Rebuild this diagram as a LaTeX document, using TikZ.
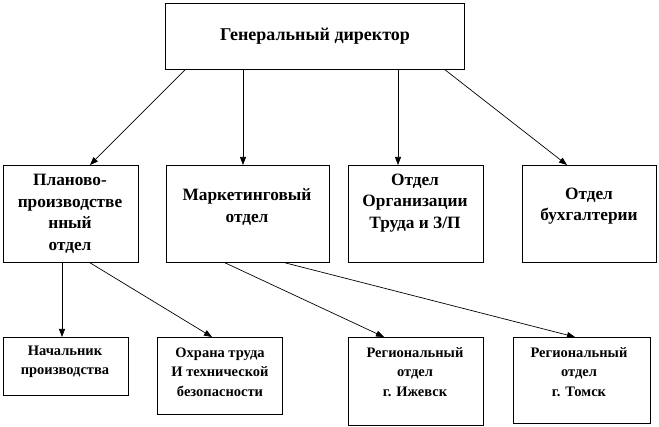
\documentclass[tikz,border=0pt]{standalone}
\usepackage{fontspec}
\setmainfont{Liberation Serif}
\usetikzlibrary{arrows.meta}
\begin{document}
\begin{tikzpicture}[x=1pt,y=-1pt,
  box/.style={draw=black,line width=0.8pt,inner sep=0pt,anchor=north west},
  toptxt/.style={align=center,font=\fontsize{18}{21.5}\selectfont\bfseries},
  bigtxt/.style={align=center,font=\fontsize{17.3}{21.5}\selectfont\bfseries},
  smalltxt/.style={align=center,font=\fontsize{14.5}{19.5}\selectfont\bfseries},
  arr/.style={line width=0.7pt,-{Triangle[length=8pt,width=6pt]}}]
\useasboundingbox (0,0) rectangle (659,427);
% boxes
\node[box,minimum width=299pt,minimum height=66pt] (gd) at (165,3) {};
\node[box,minimum width=135pt,minimum height=97pt] (b1) at (3,165) {};
\node[box,minimum width=163pt,minimum height=97pt] (b2) at (166,165) {};
\node[box,minimum width=135pt,minimum height=97pt] (b3) at (348,165) {};
\node[box,minimum width=134pt,minimum height=97pt] (b4) at (522,165) {};
\node[box,minimum width=125pt,minimum height=58pt] (c1) at (3,337) {};
\node[box,minimum width=125pt,minimum height=77pt] (c2) at (157,337) {};
\node[box,minimum width=135pt,minimum height=88pt] (c3) at (348,337) {};
\node[box,minimum width=137pt,minimum height=86pt] (c4) at (513,337) {};
% texts
\node[toptxt] (tgd) at (315,36) {Генеральный директор};
\node[bigtxt] (tb1) at (70,214) {Планово-\\производстве\\нный\\отдел};
\node[bigtxt] (tb2) at (247,207) {Маркетинговый\\отдел};
\node[bigtxt] (tb3) at (415,203) {Отдел\\Организации\\Труда и З/П};
\node[bigtxt] (tb4) at (589,206) {Отдел\\бухгалтерии};
\node[smalltxt] (tc1) at (65,362) {Начальник\\производства};
\node[smalltxt] (tc2) at (220,372) {Охрана труда\\И технической\\безопасности};
\node[smalltxt] (tc3) at (415,372) {Региональный\\отдел\\г. Ижевск};
\node[smalltxt] (tc4) at (579,372) {Региональный\\отдел\\г. Томск};
% arrows
\draw[arr] ([xshift=20pt]gd.south west) -- ([xshift=87pt]b1.north west);
\draw[arr] ([xshift=78pt]gd.south west) -- ([xshift=77pt]b2.north west);
\draw[arr] ([xshift=233pt]gd.south west) -- ([xshift=50pt]b3.north west);
\draw[arr] ([xshift=280pt]gd.south west) -- ([xshift=45pt]b4.north west);
\draw[arr] ([xshift=59pt]b1.south west) -- ([xshift=59pt]c1.north west);
\draw[arr] ([xshift=87pt]b1.south west) -- ([xshift=55pt]c2.north west);
\draw[arr] ([xshift=59pt]b2.south west) -- ([xshift=36pt]c3.north west);
\draw[arr] ([xshift=119pt]b2.south west) -- ([xshift=62pt]c4.north west);
\end{tikzpicture}
\end{document}
